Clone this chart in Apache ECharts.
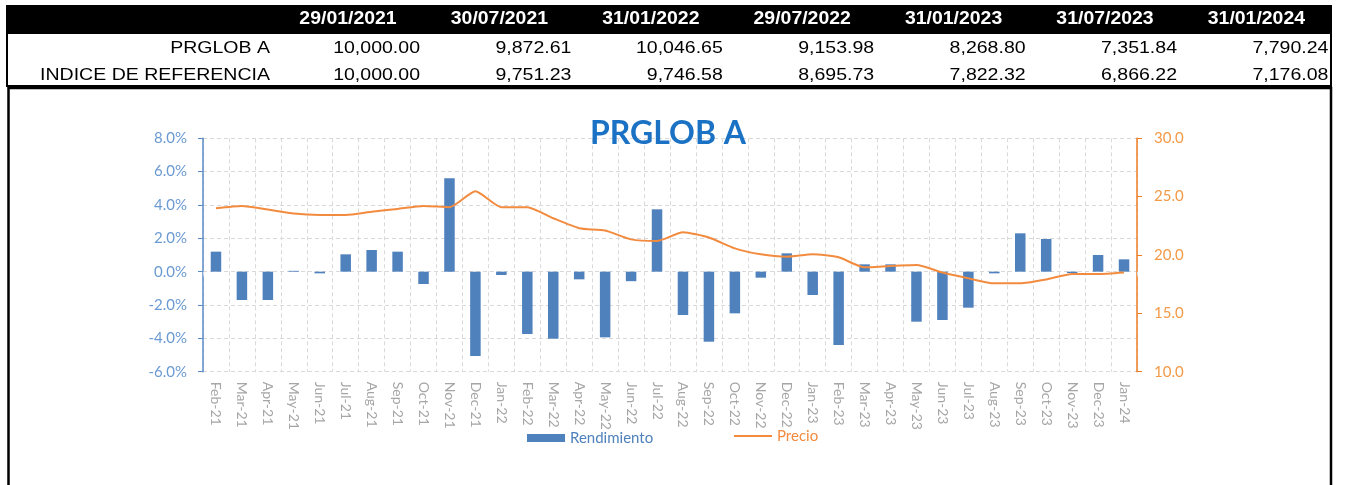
<!DOCTYPE html>
<html>
<head>
<meta charset="utf-8">
<script src="https://cdn.jsdelivr.net/npm/echarts@6/dist/echarts.min.js"></script>
<style>
  html, body { margin: 0; padding: 0; background: #fff; }
  #chart { width: 1346px; height: 485px; }
</style>
</head>
<body>
<div id="chart"></div>
<script>
// Summary table: dates and growth of 10,000
const tableDates = ['29/01/2021', '30/07/2021', '31/01/2022', '29/07/2022', '31/01/2023', '31/07/2023', '31/01/2024'];
const rowLabels = ['PRGLOB A', 'INDICE DE REFERENCIA'];
const fundValues = ['10,000.00', '9,872.61', '10,046.65', '9,153.98', '8,268.80', '7,351.84', '7,790.24'];
const benchValues = ['10,000.00', '9,751.23', '9,746.58', '8,695.73', '7,822.32', '6,866.22', '7,176.08'];

// Monthly chart
const months = ['Feb-21', 'Mar-21', 'Apr-21', 'May-21', 'Jun-21', 'Jul-21', 'Aug-21', 'Sep-21', 'Oct-21', 'Nov-21', 'Dec-21',
  'Jan-22', 'Feb-22', 'Mar-22', 'Apr-22', 'May-22', 'Jun-22', 'Jul-22', 'Aug-22', 'Sep-22', 'Oct-22', 'Nov-22', 'Dec-22',
  'Jan-23', 'Feb-23', 'Mar-23', 'Apr-23', 'May-23', 'Jun-23', 'Jul-23', 'Aug-23', 'Sep-23', 'Oct-23', 'Nov-23', 'Dec-23', 'Jan-24'];
// Monthly return, in percent
const rendimiento = [1.2, -1.7, -1.7, 0.05, -0.1, 1.04, 1.3, 1.2, -0.74, 5.6, -5.06,
  -0.2, -3.74, -4.02, -0.46, -3.94, -0.57, 3.74, -2.6, -4.2, -2.5, -0.36, 1.1,
  -1.4, -4.4, 0.44, 0.44, -3.0, -2.9, -2.16, -0.1, 2.3, 1.96, -0.08, 1.0, 0.74];
// Unit price
const precio = [24.0, 24.2, 23.9, 23.55, 23.43, 23.43, 23.7, 23.95, 24.2, 24.1, 25.46,
  24.1, 24.1, 23.15, 22.3, 22.1, 21.34, 21.2, 21.95, 21.5, 20.57, 20.06, 19.86,
  20.06, 19.8, 18.94, 19.06, 19.14, 18.5, 18.0, 17.57, 17.57, 17.9, 18.37, 18.37, 18.5];
const leftTicks = { min: -6, max: 8, interval: 2 };
const rightTicks = { min: 10, max: 30, interval: 5 };

const chart = echarts.init(document.getElementById('chart'), null, { renderer: 'canvas' });

const colStart = 272, colW = 151.4;
const tableFont = '16px "Liberation Sans", Arial, sans-serif';
const headFont = 'bold 18px "Liberation Sans", Arial, sans-serif';
const stretch = 1.22;

const graphics = [
  // header band
  { type: 'rect', shape: { x: 6, y: 5, width: 1326, height: 28 }, style: { fill: '#000' }, silent: true },
  // table body frame
  { type: 'rect', shape: { x: 7, y: 33, width: 1324, height: 53 }, style: { fill: '#fff', stroke: '#000', lineWidth: 2 }, silent: true },
  // chart frame (open at the bottom)
  { type: 'polyline', shape: { points: [[8.5, 485], [8.5, 88], [1331, 88], [1331, 485]] }, style: { stroke: '#000', lineWidth: 2.5, fill: null }, silent: true }
];

tableDates.forEach((d, i) => {
  graphics.push({
    type: 'text', x: colStart + colW * i + 76, y: 19, scaleX: 1.08,
    style: { text: d, font: headFont, fill: '#fff', align: 'center', verticalAlign: 'middle' }, silent: true
  });
});

const rowsY = [48.5, 75.5];
rowLabels.forEach((lab, r) => {
  graphics.push({
    type: 'text', x: 270, y: rowsY[r], scaleX: stretch,
    style: { text: lab, font: tableFont, fill: '#000', align: 'right', verticalAlign: 'middle' }, silent: true
  });
});
[fundValues, benchValues].forEach((vals, r) => {
  vals.forEach((v, i) => {
    graphics.push({
      type: 'text', x: colStart + colW * i + 148, y: rowsY[r], scaleX: stretch,
      style: { text: v, font: tableFont, fill: '#000', align: 'right', verticalAlign: 'middle' }, silent: true
    });
  });
});

const gridColor = '#D9D9D9';
const chartFont = 'Lato, "Open Sans", sans-serif';
const barColor = '#4F81BD';
const lineColor = '#F38B3F';

chart.setOption({
  animation: false,
  title: {
    text: 'PRGLOB A',
    left: 668, top: 115, textAlign: 'center', padding: 0,
    textStyle: { fontFamily: chartFont, fontWeight: 'bold', fontSize: 32, lineHeight: 38, color: '#1B72C4' }
  },
  graphic: graphics,
  legend: [
    {
      left: 527, top: 430.5, padding: 0,
      itemWidth: 38, itemHeight: 8,
      data: [{ name: 'Rendimiento', icon: 'rect', textStyle: { color: barColor } }],
      textStyle: { fontFamily: chartFont, fontSize: 15 }
    },
    {
      left: 734, top: 428.5, padding: 0,
      itemWidth: 38, itemHeight: 2,
      data: [{ name: 'Precio', icon: 'rect', itemStyle: { color: lineColor }, textStyle: { color: lineColor } }],
      textStyle: { fontFamily: chartFont, fontSize: 15 }
    }
  ],
  grid: { left: 203, right: 209, top: 138.3, bottom: 113.3 },
  xAxis: {
    type: 'category',
    data: months,
    boundaryGap: true,
    axisLine: { show: false },
    axisTick: { show: true, length: 4, interval: 0, lineStyle: { color: gridColor } },
    splitLine: { show: true, interval: 0, lineStyle: { color: gridColor, type: [4, 3], width: 1 } },
    axisLabel: { interval: 0, rotate: -90, margin: 10, color: '#A6A6A6', fontFamily: chartFont, fontSize: 14 }
  },
  yAxis: [
    {
      type: 'value', min: leftTicks.min, max: leftTicks.max, interval: leftTicks.interval,
      axisLine: { show: true, lineStyle: { color: '#5B8BC8', width: 1.5 } },
      axisTick: { show: true, length: 5, lineStyle: { color: '#5B8BC8' } },
      splitLine: { show: true, lineStyle: { color: gridColor, type: [4, 3], width: 1 } },
      axisLabel: { formatter: v => v.toFixed(1) + '%', color: '#6B9AD2', fontFamily: chartFont, fontSize: 15, margin: 16 }
    },
    {
      type: 'value', min: rightTicks.min, max: rightTicks.max, interval: rightTicks.interval, position: 'right',
      axisLine: { show: true, lineStyle: { color: '#EE7D22', width: 1.5 } },
      axisTick: { show: true, length: 5, lineStyle: { color: '#EE7D22' } },
      splitLine: { show: false },
      axisLabel: { formatter: v => v.toFixed(1), color: '#F39A48', fontFamily: chartFont, fontSize: 15, margin: 17 }
    }
  ],
  series: [
    {
      name: 'Rendimiento', type: 'bar', yAxisIndex: 0, data: rendimiento,
      barWidth: 10.5, itemStyle: { color: barColor }
    },
    {
      name: 'Precio', type: 'line', yAxisIndex: 1, data: precio,
      symbol: 'none', smooth: 0.2,
      lineStyle: { color: lineColor, width: 2 }, itemStyle: { color: lineColor }
    }
  ]
});
</script>
</body>
</html>
